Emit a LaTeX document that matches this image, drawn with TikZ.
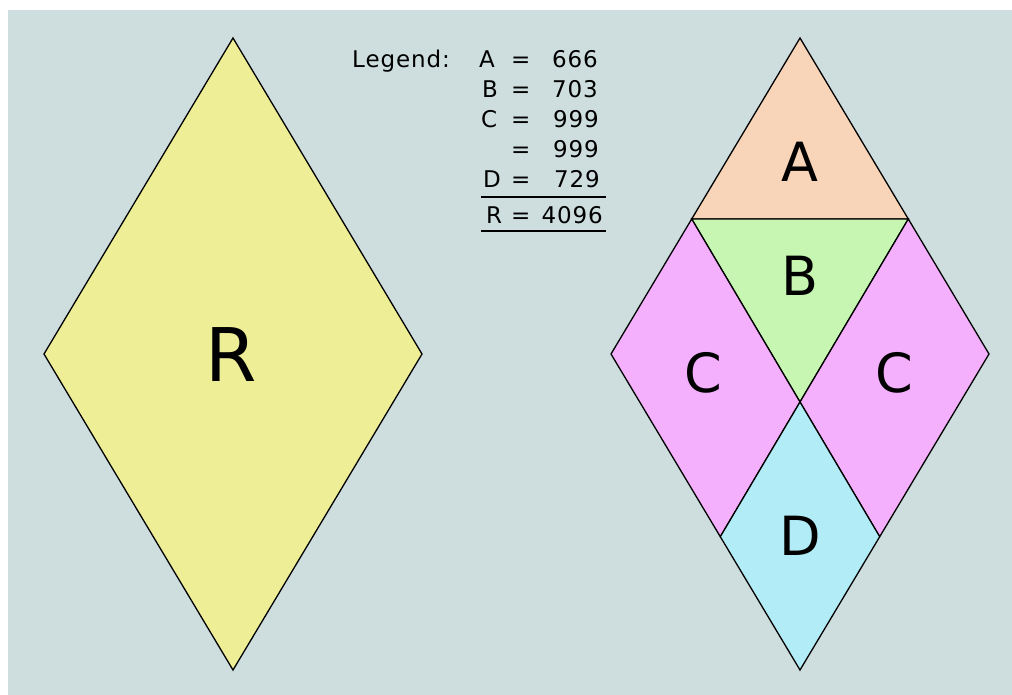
\documentclass[tikz,border=0pt]{standalone}
\usepackage{fontspec}
\setmainfont{DejaVu Sans}
\newfontfamily\legfont[LetterSpace=4]{DejaVu Sans}
\definecolor{bgc}{RGB}{206,222,222}
\definecolor{yelc}{RGB}{238,238,150}
\definecolor{pchc}{RGB}{248,212,184}
\definecolor{grnc}{RGB}{198,246,178}
\definecolor{pnkc}{RGB}{244,176,252}
\definecolor{cyac}{RGB}{178,236,246}
\begin{document}
\begin{tikzpicture}[x=1pt,y=-1pt,
  piece/.style={draw=black,line width=1.3pt,line join=miter},
  biglbl/.style={inner sep=0pt,anchor=base,font=\fontsize{74}{80}\selectfont},
  midlbl/.style={inner sep=0pt,anchor=base,font=\fontsize{54}{60}\selectfont},
  leg/.style={inner sep=0pt,font=\legfont\fontsize{23}{27}\selectfont},
  rule/.style={draw=black,line width=1.4pt}]
\useasboundingbox (0,0) rectangle (1012,695);
\fill[bgc] (8,10) rectangle (1012,695);
% left rhombus
\coordinate (lt) at (233,38);
\coordinate (ll) at (44,354);
\coordinate (lb) at (233,670);
\coordinate (lr) at (422,354);
\filldraw[piece,fill=yelc] (lt) -- (lr) -- (lb) -- (ll) -- cycle;
\node[biglbl] (labR) at (231,381) {R};
% right rhombus
\coordinate (rt) at (800,38);
\coordinate (rl) at (611,354);
\coordinate (rb) at (800,670);
\coordinate (rr) at (989,354);
\coordinate (p1) at (691.7,219);
\coordinate (p2) at (908.3,219);
\coordinate (xc) at (800,402);
\coordinate (q1) at (720.3,536.7);
\coordinate (q2) at (879.7,536.7);
\filldraw[piece,fill=pchc] (rt) -- (p2) -- (p1) -- cycle;
\filldraw[piece,fill=grnc] (p1) -- (p2) -- (xc) -- cycle;
\filldraw[piece,fill=pnkc] (p1) -- (xc) -- (q1) -- (rl) -- cycle;
\filldraw[piece,fill=pnkc] (p2) -- (rr) -- (q2) -- (xc) -- cycle;
\filldraw[piece,fill=cyac] (xc) -- (q2) -- (rb) -- (q1) -- cycle;
\node[midlbl] (labA) at (800,182) {A};
\node[midlbl] (labB) at (800,295) {B};
\node[midlbl] (labC1) at (703,392) {C};
\node[midlbl] (labC2) at (894,392) {C};
\node[midlbl] (labD) at (800,555) {D};
% legend
\node[leg,anchor=base west] (lg) at (352,67.7) {Legend:};
\node[leg,anchor=base west] (la) at (479,67.7) {A};
\node[leg,anchor=base west] (lb1) at (482,97.7) {B};
\node[leg,anchor=base west] (lc) at (481,127.7) {C};
\node[leg,anchor=base west] (ld) at (483,188) {D};
\node[leg,anchor=base west] (lr1) at (486,224) {R};
\node[leg,anchor=base west] (e1) at (511,67.7) {=};
\node[leg,anchor=base west] (e2) at (511,97.7) {=};
\node[leg,anchor=base west] (e3) at (511,127.7) {=};
\node[leg,anchor=base west] (e4) at (511,157.7) {=};
\node[leg,anchor=base west] (e5) at (511,188) {=};
\node[leg,anchor=base west] (e6) at (511,224) {=};
\node[leg,anchor=base east] (n1) at (598,67.7) {666};
\node[leg,anchor=base east] (n2) at (598,97.7) {703};
\node[leg,anchor=base east] (n3) at (599,127.7) {999};
\node[leg,anchor=base east] (n4) at (599,157.7) {999};
\node[leg,anchor=base east] (n5) at (600,188) {729};
\node[leg,anchor=base east] (n6) at (603,224) {4096};
\coordinate (r1a) at (481,197);
\coordinate (r1b) at (606,197);
\coordinate (r2a) at (481,231);
\coordinate (r2b) at (606,231);
\draw[rule] (r1a) -- (r1b);
\draw[rule] (r2a) -- (r2b);
\end{tikzpicture}
\end{document}
